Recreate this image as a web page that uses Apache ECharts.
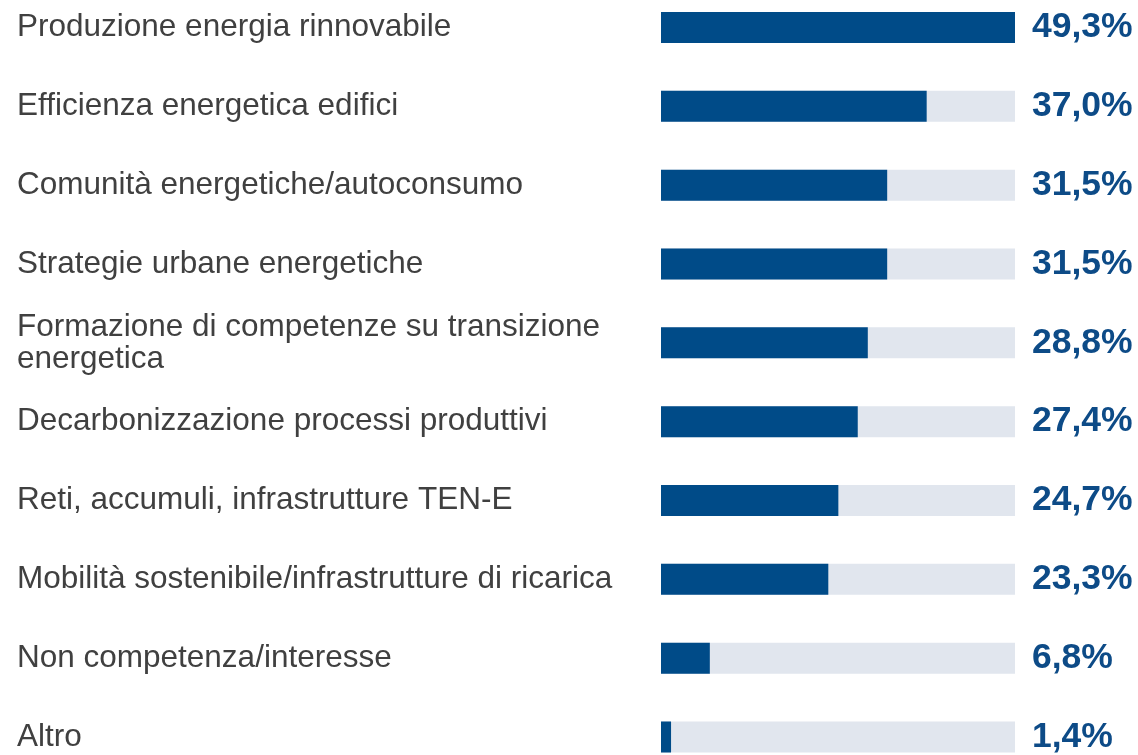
<!DOCTYPE html>
<html>
<head>
<meta charset="utf-8">
<script src="https://cdn.jsdelivr.net/npm/echarts@6/dist/echarts.min.js"></script>
<style>
  html, body { margin: 0; padding: 0; background: #fff; }
  #chart { width: 1138px; height: 755px; }
</style>
</head>
<body>
<div id="chart"></div>
<script>
// categorie, dall'alto in basso
var categories = [
  "Produzione energia rinnovabile",
  "Efficienza energetica edifici",
  "Comunità energetiche/autoconsumo",
  "Strategie urbane energetiche",
  "Formazione di competenze su transizione\nenergetica",
  "Decarbonizzazione processi produttivi",
  "Reti, accumuli, infrastrutture TEN-E",
  "Mobilità sostenibile/infrastrutture di ricarica",
  "Non competenza/interesse",
  "Altro"
];
var values = [49.3, 37.0, 31.5, 31.5, 28.8, 27.4, 24.7, 23.3, 6.8, 1.4];
var maxValue = 49.3;
var trackValues = categories.map(function () { return maxValue; });

var chart = echarts.init(document.getElementById("chart"));
var option = {
  animation: false,
  // boundaryGap false: la prima e l'ultima categoria stanno sui bordi della griglia
  grid: { left: 661, right: 123, top: 27.5, bottom: 14.5 },
  xAxis: {
    type: "value",
    min: 0,
    max: maxValue,
    show: false
  },
  yAxis: {
    type: "category",
    inverse: true,
    boundaryGap: false,
    data: categories,
    axisLine: { show: false },
    axisTick: { show: false },
    splitLine: { show: false },
    axisLabel: {
      align: "left",
      margin: 644,
      color: "#404040",
      fontFamily: "Liberation Sans",
      fontSize: 31.5,
      lineHeight: 32,
      padding: [4, 0, 0, 0]
    }
  },
  series: [
    {
      // barra grigia di sfondo, porta l'etichetta del valore
      name: "track",
      type: "bar",
      data: trackValues,
      barWidth: 31,
      itemStyle: { color: "#e1e6ee" },
      label: {
        show: true,
        position: "right",
        distance: 17,
        color: "#0d4b87",
        fontFamily: "Liberation Sans",
        fontWeight: "bold",
        fontSize: 35.5,
        formatter: function (p) {
          return values[p.dataIndex].toFixed(1).replace(".", ",") + "%";
        }
      }
    },
    {
      name: "valore",
      type: "bar",
      data: values,
      barWidth: 31,
      barGap: "-100%",
      itemStyle: { color: "#004b88" }
    }
  ]
};
chart.setOption(option);
</script>
</body>
</html>
